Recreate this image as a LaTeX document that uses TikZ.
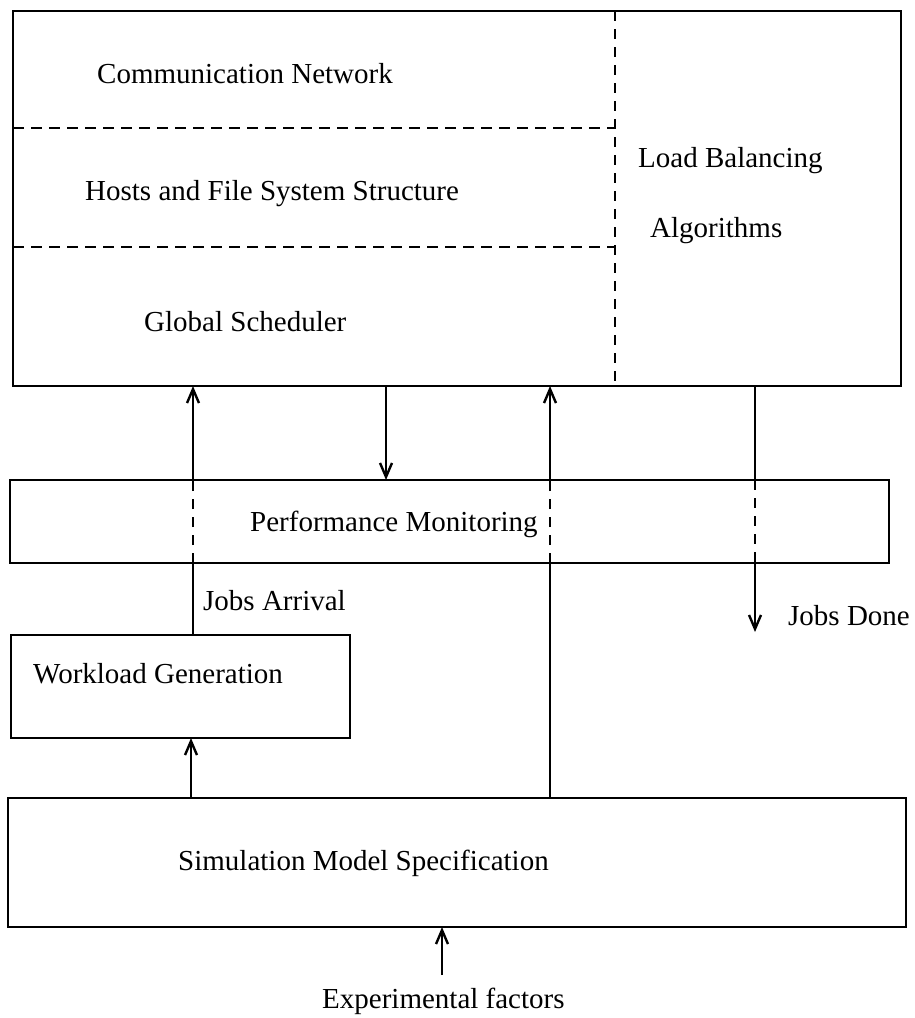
\documentclass[tikz,border=0pt]{standalone}
\usepackage{fontspec}
\setmainfont{Liberation Serif}
\usetikzlibrary{arrows.meta}
\begin{document}
\begin{tikzpicture}[x=1pt,y=-1pt,
  box/.style={draw, line width=2.6pt, inner sep=0pt, outer sep=0pt},
  lbl/.style={anchor=base west, inner sep=0pt, font=\fontsize{29}{34}\selectfont},
  solidline/.style={line width=2.4pt},
  dashline/.style={line width=2.4pt, dash pattern=on 10pt off 8pt},
  hdash/.style={line width=2.4pt, dash pattern=on 11pt off 7pt},
  arr/.style={-{Straight Barb[length=14pt,width=12pt]}}]
\useasboundingbox (0,0) rectangle (915,1018);

% boxes
\node[box, minimum width=888pt, minimum height=375pt] (top) at (457,198.5) {};
\node[box, minimum width=879pt, minimum height=83pt] (perf) at (449.5,521.5) {};
\node[box, minimum width=339pt, minimum height=103pt] (work) at (180.5,686.5) {};
\node[box, minimum width=898pt, minimum height=129pt] (sim) at (457,862.5) {};

% x positions of the vertical lines
\coordinate (ca) at (193,0);
\coordinate (cb) at (386,0);
\coordinate (cc) at (550,0);
\coordinate (cd) at (755,0);
\coordinate (ce) at (191,0);
\coordinate (cf) at (442,0);
\coordinate (cv) at (615,0);
\coordinate (h1) at (0,128);
\coordinate (h2) at (0,247);
\coordinate (doneend) at (755,632);
\coordinate (expstart) at (442,975);

% partitions inside the top box
\draw[dashline] (top.north -| cv) -- (top.south -| cv);
\draw[hdash] (top.west |- h1) -- (cv |- h1);
\draw[hdash] (top.west |- h2) -- (cv |- h2);

% labels
\node[lbl] (comm) at (97,83) {Communication Network};
\node[lbl] (hosts) at (85,200) {Hosts and File System Structure};
\node[lbl] (glob) at (144,331) {Global Scheduler};
\node[lbl] (lb) at (638,167) {Load Balancing};
\node[lbl] (alg) at (650,237) {Algorithms};
\node[lbl] (pm) at (250,531) {Performance Monitoring};
\node[lbl] (ja) at (203,610) {Jobs Arrival};
\node[lbl] (jd) at (788,625) {Jobs Done};
\node[lbl] (wg) at (33,683) {Workload Generation};
\node[lbl] (sm) at (178,870) {Simulation Model Specification};
\node[lbl] (ef) at (322,1008) {Experimental factors};

% jobs arrival: workload -> scheduler
\draw[solidline] (work.north -| ca) -- (perf.south -| ca);
\draw[dashline] (perf.south -| ca) -- (perf.north -| ca);
\draw[solidline, arr] (perf.north -| ca) -- (top.south -| ca);

% scheduler -> performance monitoring
\draw[solidline, arr] (top.south -| cb) -- (perf.north -| cb);

% specification -> top box
\draw[solidline] (sim.north -| cc) -- (perf.south -| cc);
\draw[dashline] (perf.south -| cc) -- (perf.north -| cc);
\draw[solidline, arr] (perf.north -| cc) -- (top.south -| cc);

% jobs done
\draw[solidline] (top.south -| cd) -- (perf.north -| cd);
\draw[dashline] (perf.north -| cd) -- (perf.south -| cd);
\draw[solidline, arr] (perf.south -| cd) -- (doneend);

% specification -> workload
\draw[solidline, arr] (sim.north -| ce) -- (work.south -| ce);

% experimental factors -> specification
\draw[solidline, arr] (expstart) -- (sim.south -| cf);
\end{tikzpicture}
\end{document}
